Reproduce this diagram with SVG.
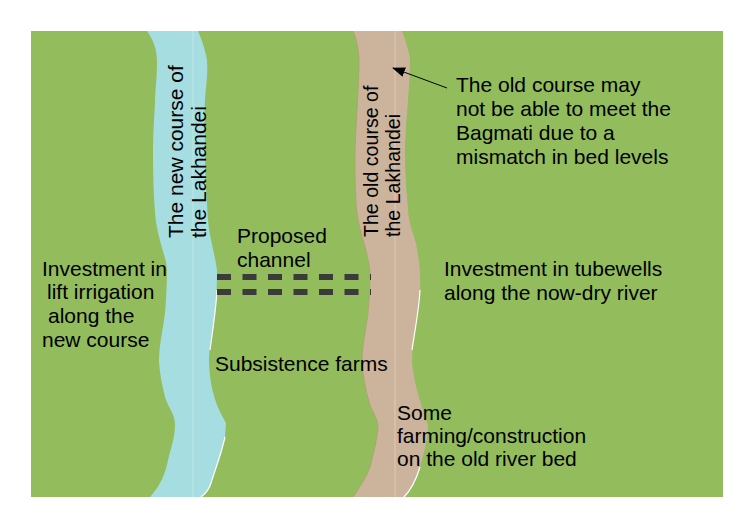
<svg xmlns="http://www.w3.org/2000/svg" width="745" height="527" viewBox="0 0 745 527">
<style>
text{font-family:"Liberation Sans",Arial,sans-serif;font-size:21px;fill:#000}
.rot{font-size:19.6px}
.dash{stroke:#3b3b3b;stroke-width:6;stroke-dasharray:14 11.5;fill:none}
.mid{fill:none;stroke-width:1}
.hl{fill:none;stroke:#fff;stroke-width:1.2}
</style>
<defs><marker id="ah" markerUnits="userSpaceOnUse" markerWidth="14" markerHeight="12" refX="12" refY="5" orient="auto"><path d="M0 0L13 5L0 10z" fill="#000"/></marker></defs>
<rect id="land" x="31" y="31" width="692" height="466" fill="#93bc5c"/>
<g id="new-course">
<path d="M147 31C153 40 157 48 157 62C157 80 155 90 155 103C154 120 153 135 153 153C153 180 154 205 156 222C159 240 163 250 166 262L167 270C167 285 166 300 165 313C163 330 159 345 159 362C160 375 162 385 165 397C168 408 175 413 175 425C175 437 171 448 168 460C166 470 163 478 160 483C157 489 153 493 150 497H201C205 494 209 490 211 483C215 470 221 455 225 437L226 423C221 414 216 405 213 392C211 385 209 370 209 360C209 350 212 335 214 320C216 305 217 290 217 270C214 250 209 235 208 220C207 200 205 175 205 153C205 130 204 115 205 100C206 85 208 75 207 60C205 48 201 38 198 31Z" fill="#a5dde0"/>
<path class="hl" d="M211 483C215 470 221 455 225 437M201 497C205 494 209 490 211 483M217 290C216 310 212 335 210 350"/>
<line class="mid" x1="193" y1="31" x2="193" y2="497" stroke="#bfe6e8"/>
<text transform="translate(183 238) rotate(-90)">The new course of</text>
<text transform="translate(206 238) rotate(-90)">the Lakhandei</text>
</g>
<g id="old-course">
<path d="M353 31C356 38 359 48 359 62C359 85 356 120 355 153C355 175 355 195 357 213C360 235 368 250 370 273C370 290 369 300 368 313C366 330 362 345 362 363C363 378 366 390 369 402C372 412 378 418 378 428C377 440 373 455 370 467C366 478 358 490 353 497H404C411 490 416 480 420 467C424 452 428 440 428 425C423 410 415 390 412 363C412 340 418 310 420 290C421 275 419 255 415 240C411 228 408 218 408 207C406 190 405 170 405 153C405 125 410 90 410 57C407 46 405 38 402 31Z" fill="#ccb39c"/>
<path d="M353 31C356 38 359 48 359 62C359 85 356 120 355 153C355 175 355 195 357 213C360 235 368 250 370 273C370 290 369 300 368 313C366 330 362 345 362 363C363 378 366 390 369 402C372 412 378 418 378 428C377 440 373 455 370 467C366 478 358 490 353 497" fill="none" stroke="#a8a468" stroke-width="0.8"/>
<path class="hl" d="M404 497C411 490 416 480 420 467M420 290C419 310 414 335 412 350"/>
<line class="mid" x1="395" y1="31" x2="395" y2="497" stroke="#ddcbb9"/>
<text class="rot" transform="translate(378 237) rotate(-90)">The old course of</text>
<text class="rot" transform="translate(400 237) rotate(-90)">the Lakhandei</text>
</g>
<g id="connectors">
<line class="dash" x1="217" y1="277" x2="371" y2="277"/>
<line class="dash" x1="217" y1="292" x2="371" y2="292"/>
<line x1="447" y1="88" x2="393" y2="68" stroke="#000" stroke-width="1" marker-end="url(#ah)"/>
</g>
<g id="labels">
<text x="456" y="92">The old course may</text>
<text x="456" y="116">not be able to meet the</text>
<text x="456" y="140">Bagmati due to a</text>
<text x="456" y="164">mismatch in bed levels</text>
<text x="237" y="243">Proposed</text>
<text x="237" y="267">channel</text>
<text x="42" y="276">Investment in</text>
<text x="47" y="299">lift irrigation</text>
<text x="48" y="323">along the</text>
<text x="42" y="347">new course</text>
<text x="444" y="276">Investment in tubewells</text>
<text x="444" y="300">along the now-dry river</text>
<text x="215" y="371">Subsistence farms</text>
<text x="397" y="420">Some</text>
<text x="397" y="443">farming/construction</text>
<text x="397" y="466">on the old river bed</text>
</g>
</svg>
